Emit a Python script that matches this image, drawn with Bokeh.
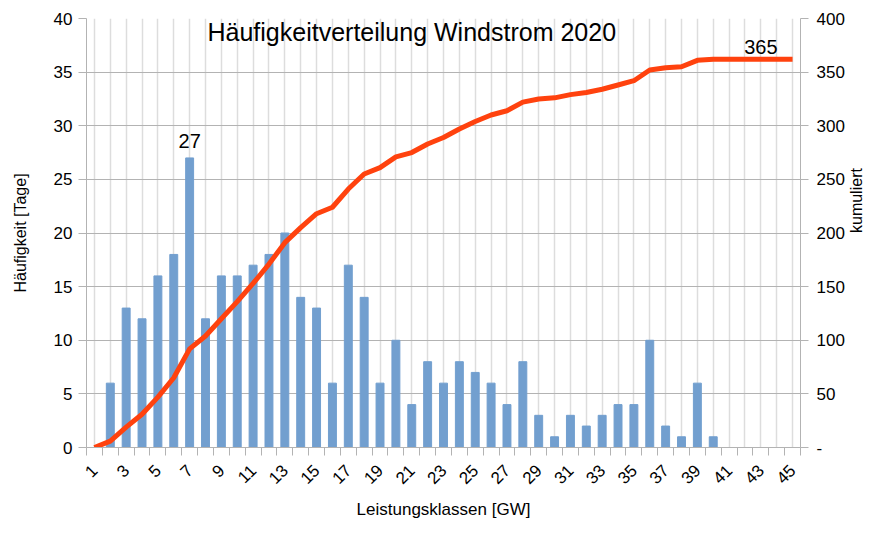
import math
from bokeh.plotting import figure
from bokeh.models import (Range1d, LinearAxis, FixedTicker, Label, ColumnDataSource)
from bokeh.embed import file_html
from bokeh.resources import INLINE

# ---- data ----
classes = list(range(1, 46))
tick_labels = list(range(1, 46, 2))
counts = [0, 6, 13, 12, 16, 18, 27, 12, 16, 16, 17, 18, 20, 14, 13, 6, 17, 14, 6, 10,
          4, 8, 6, 8, 7, 6, 4, 8, 3, 1, 3, 2, 3, 4, 4, 10, 2, 1, 6, 1,
          0, 0, 0, 0, 0]
cumulative = [0, 6, 19, 31, 47, 65, 92, 104, 120, 136, 153, 171, 191, 205, 218, 224,
              241, 255, 261, 271, 275, 283, 289, 297, 304, 310, 314, 322, 325, 326,
              329, 331, 334, 338, 342, 352, 354, 355, 361, 362, 362, 362, 362, 362, 362]
left_ticks = [0, 5, 10, 15, 20, 25, 30, 35, 40]
right_ticks = [0, 50, 100, 150, 200, 250, 300, 350, 400]
title_text = "Häufigkeitverteilung Windstrom 2020"
x_title = "Leistungsklassen [GW]"
y_title = "Häufigkeit [Tage]"
y2_title = "kumuliert"
peak_label = "27"
total_label = "365"

FONT = "Liberation Sans"
GRID = "#b3b3b3"

src = ColumnDataSource(dict(x=classes, count=counts, cum=cumulative))

p = figure(width=876, height=522, output_backend="svg", toolbar_location=None,
           x_range=Range1d(0.5, 45.5), y_range=Range1d(0, 40),
           min_border_left=86, min_border_right=66, min_border_top=18,
           min_border_bottom=74)
p.extra_y_ranges = {"cum": Range1d(0, 400)}
p.outline_line_color = None
p.background_fill_color = "white"
p.border_fill_color = "white"

# grids
p.ygrid.ticker = FixedTicker(ticks=left_ticks)
p.ygrid.grid_line_color = GRID
p.ygrid.grid_line_width = 1
p.xgrid.ticker = FixedTicker(ticks=classes)
p.xgrid.grid_line_color = "#dddddd"
p.xgrid.grid_line_width = 1.5

# bars + cumulative line
p.vbar(x="x", top="count", width=0.5, color="#729fcf", source=src)
p.line(x="x", y="cum", y_range_name="cum", line_width=5, color="#ff420e",
       line_join="round", source=src)

# x axis
xa = p.xaxis[0]
xa.ticker = FixedTicker(ticks=tick_labels, minor_ticks=[c - 0.5 for c in classes] + [45.5])
xa.major_tick_in = 0
xa.major_tick_out = 0
xa.minor_tick_in = 0
xa.minor_tick_out = 8
xa.minor_tick_line_color = GRID
xa.axis_line_color = GRID
xa.major_label_orientation = math.pi / 4
xa.major_label_standoff = 12
xa.major_label_text_font = FONT
xa.major_label_text_font_size = "17px"
xa.major_label_text_color = "black"
xa.axis_label = x_title
xa.axis_label_text_font = FONT
xa.axis_label_text_font_size = "17px"
xa.axis_label_text_font_style = "normal"
xa.axis_label_text_color = "black"
xa.axis_label_standoff = 8

# left axis
ya = p.yaxis[0]
ya.ticker = FixedTicker(ticks=left_ticks)
ya.major_tick_in = 0
ya.major_tick_out = 8
ya.minor_tick_out = 0
ya.minor_tick_in = 0
ya.major_tick_line_color = GRID
ya.axis_line_color = GRID
ya.major_label_text_font = FONT
ya.major_label_text_font_size = "17px"
ya.major_label_text_color = "black"
ya.major_label_standoff = 6
ya.axis_label = y_title
ya.axis_label_text_font = FONT
ya.axis_label_text_font_size = "16px"
ya.axis_label_text_font_style = "normal"
ya.axis_label_text_color = "black"
ya.axis_label_standoff = 22

# right axis
ra = LinearAxis(y_range_name="cum", ticker=FixedTicker(ticks=right_ticks),
                major_label_overrides={0: "-"})
ra.major_tick_in = 0
ra.major_tick_out = 8
ra.minor_tick_out = 0
ra.minor_tick_in = 0
ra.major_tick_line_color = GRID
ra.axis_line_color = GRID
ra.major_label_text_font = FONT
ra.major_label_text_font_size = "17px"
ra.major_label_text_color = "black"
ra.major_label_standoff = 8
ra.axis_label = y2_title
ra.axis_label_text_font = FONT
ra.axis_label_text_font_size = "16px"
ra.axis_label_text_font_style = "normal"
ra.axis_label_text_color = "black"
ra.axis_label_standoff = 9
ra.axis_label_orientation = math.pi / 2
p.add_layout(ra, "right")

# data labels + title
p.add_layout(Label(x=7, y=counts[6], text=peak_label, text_align="center",
                   text_baseline="alphabetic", y_offset=17, text_font=FONT,
                   text_font_size="20px", text_color="black"))
p.add_layout(Label(x=43, y=cumulative[-1], y_range_name="cum", text=total_label,
                   text_align="center", text_baseline="alphabetic", y_offset=12,
                   text_font=FONT, text_font_size="20px", text_color="black"))
p.add_layout(Label(x=21.0, y=38.7, text=title_text, text_align="center",
                   text_baseline="middle", text_font=FONT, text_font_size="25px",
                   text_color="black"))

open("out.html", "w").write(file_html(p, INLINE))
